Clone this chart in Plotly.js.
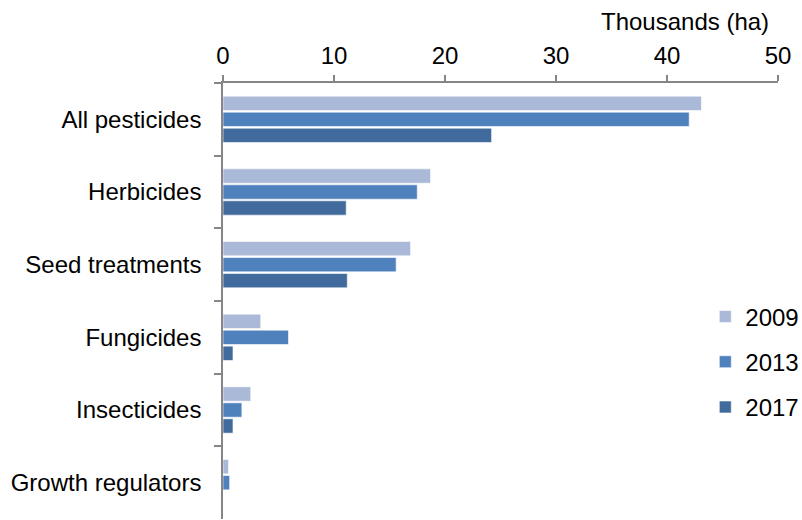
<!DOCTYPE html>
<html>
<head>
<meta charset="utf-8">
<script src="https://cdn.plot.ly/plotly-3.0.1.min.js"></script>
<style>html,body{margin:0;padding:0;background:#fff;}#chart{width:802px;height:520px;}</style>
</head>
<body>
<div id="chart"></div>
<script>
const categories = ["All pesticides", "Herbicides", "Seed treatments", "Fungicides", "Insecticides", "Growth regulators"];
const years = ["2009", "2013", "2017"];
const values2009 = [43.1, 18.7, 16.9, 3.4, 2.5, 0.5];
const values2013 = [42.0, 17.5, 15.6, 5.9, 1.7, 0.6];
const values2017 = [24.2, 11.1, 11.2, 0.9, 0.9, 0];
const xTicks = [0, 10, 20, 30, 40, 50];
const axisTitle = "Thousands (ha)";

const colors = ["#AAB9D7", "#4F81BD", "#416B9C"];
const series = [values2009, values2013, values2017];
const font = "Liberation Sans, Arial, sans-serif";

const traces = series.map((vals, i) => ({
  type: "bar",
  orientation: "h",
  name: years[i],
  legendgroup: years[i],
  x: vals,
  y: categories,
  marker: {color: colors[i], line: {color: "rgba(255,255,255,0.6)", width: 1}},
  hoverinfo: "x+y+name"
}));

const layout = {
  width: 802,
  height: 520,
  margin: {l: 223, r: 24, t: 83, b: 1, pad: 0, autoexpand: false},
  paper_bgcolor: "#fff",
  plot_bgcolor: "#fff",
  font: {family: font, size: 24, color: "#000"},
  barmode: "group",
  bargap: 0.34,
  bargroupgap: 0.1,
  showlegend: true,
  legend: {
    x: 0.869, xanchor: "left",
    y: 0.515, yanchor: "top",
    traceorder: "grouped",
    tracegroupgap: 11,
    font: {family: font, size: 24, color: "#000"},
    bgcolor: "rgba(0,0,0,0)"
  },
  xaxis: {
    side: "top",
    range: [0, 50],
    tickvals: xTicks,
    ticktext: xTicks.map(String),
    ticks: "outside",
    ticklen: 6,
    tickcolor: "#868686",
    tickwidth: 1.5,
    showline: true,
    linecolor: "#868686",
    linewidth: 1.5,
    showgrid: false,
    zeroline: false,
    ticklabelstandoff: 2,
    tickfont: {family: font, size: 24, color: "#000"},
    fixedrange: true
  },
  yaxis: {
    type: "category",
    autorange: "reversed",
    tickson: "boundaries",
    ticks: "outside",
    ticklen: 7,
    tickcolor: "#868686",
    tickwidth: 1.5,
    showline: true,
    linecolor: "#868686",
    linewidth: 1.5,
    showgrid: false,
    zeroline: false,
    ticklabelstandoff: 15,
    tickfont: {family: font, size: 24, color: "#000"},
    fixedrange: true
  },
  annotations: [{
    text: axisTitle,
    xref: "paper", yref: "paper",
    x: 0.988, xanchor: "right",
    y: 1 + (83 - 21) / 436, yanchor: "middle",
    showarrow: false,
    font: {family: font, size: 24, color: "#000"}
  }]
};

Plotly.newPlot("chart", traces, layout, {displayModeBar: false, staticPlot: false});
</script>
</body>
</html>
